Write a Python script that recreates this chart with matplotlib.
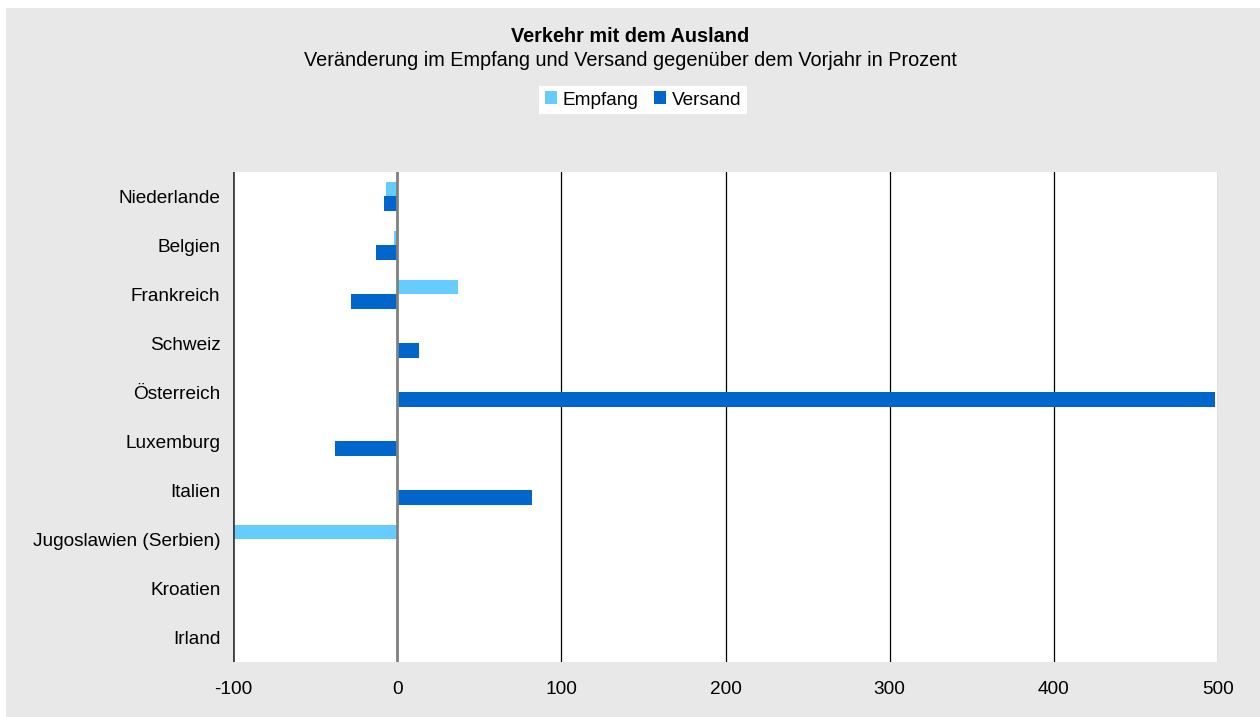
import matplotlib.pyplot as plt
import matplotlib.patches as mpatches
import numpy as np

plt.rcParams['font.family'] = ['Liberation Sans', 'DejaVu Sans']
plt.rcParams['axes.unicode_minus'] = False

# Daten
laender = ['Niederlande', 'Belgien', 'Frankreich', 'Schweiz', 'Österreich',
           'Luxemburg', 'Italien', 'Jugoslawien (Serbien)', 'Kroatien', 'Irland']
empfang = [-7, -2, 37, 0, 0, 0, 0, -100, 0, 0]
versand = [-8, -13, -28, 13, 498, -38, 82, 0, 0, 0]

fig = plt.figure(figsize=(12.6, 7.17), dpi=100)
fig.patches.append(mpatches.Rectangle((6 / 1260, 0), 1, 1 - 8 / 717,
                                      transform=fig.transFigure,
                                      facecolor='#e8e8e8', edgecolor='none', zorder=-10))

ax = fig.add_axes([233 / 1260, 55 / 717, 985 / 1260, 490 / 717])
ax.set_facecolor('white')

y = np.arange(len(laender))
h = 0.306
ax.barh(y - h / 2, empfang, height=h, color='#66ccff', label='Empfang', zorder=2)
ax.barh(y + h / 2, versand, height=h, color='#0066cc', label='Versand', zorder=2)

ax.set_xlim(-100, 500)
ax.set_ylim(len(laender) - 0.5, -0.5)
ax.set_xticks(range(-100, 501, 100))
ax.set_yticks(y)
ax.set_yticklabels(laender)
ax.tick_params(length=0, labelsize=13.7)
ax.tick_params(axis='y', pad=9)
ax.tick_params(axis='x', pad=14)

for x in range(100, 501, 100):
    ax.axvline(x, color='black', linewidth=0.9, zorder=1)
ax.axvline(0, color='#808080', linewidth=2, zorder=3)
ax.axvline(-100, color='#404040', linewidth=2, zorder=3)
for s in ax.spines.values():
    s.set_visible(False)

fig.text(0.5, 1 - 37 / 717, 'Verkehr mit dem Ausland', ha='center', va='center',
         fontsize=14.3, fontweight='bold')
fig.text(0.5, 1 - 60 / 717, 'Veränderung im Empfang und Versand gegenüber dem Vorjahr in Prozent',
         ha='center', va='center', fontsize=14.3)

fig.legend(loc='center', bbox_to_anchor=(643 / 1260, 1 - 100 / 717), ncol=2,
           frameon=True, fancybox=False, edgecolor='none', framealpha=1,
           fontsize=13.7, handlelength=0.65, handleheight=0.65, handletextpad=0.3,
           columnspacing=0.8, borderpad=0.3, borderaxespad=0)

plt.savefig('out.png', dpi=100)
